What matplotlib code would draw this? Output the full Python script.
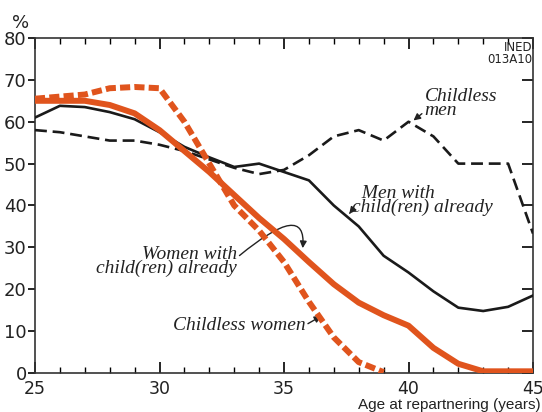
import numpy as np
import matplotlib
matplotlib.use('Agg')
import matplotlib.pyplot as plt
from matplotlib.ticker import MultipleLocator

# donnees
ages = list(range(25, 46))
men_with_children = [61, 63.8, 63.5, 62.3, 60.6, 57.5, 54, 51.5, 49.2, 50, 48,
                     46, 40, 35, 28, 24, 19.5, 15.6, 14.8, 15.8, 18.5]
childless_men = [58, 57.5, 56.5, 55.5, 55.5, 54.5, 53, 51, 49, 47.5, 48.5,
                 52, 56.5, 58, 55.5, 60, 56.5, 50, 50, 50, 33.3]
women_with_children = [65, 65, 65, 64, 62, 58, 53, 48, 42.5, 37, 32,
                       26.5, 21.2, 16.8, 13.8, 11.3, 6, 2.2, 0.4, 0.4, 0.4]
ages_cw = list(range(25, 40))
childless_women = [65.5, 66, 66.5, 68, 68.3, 68, 60, 50, 40, 34, 26.5,
                   17, 8.5, 2.6, 0.2]

orange = '#e0541d'

fig = plt.figure(figsize=(5.42, 4.12), dpi=100)
ax = fig.add_axes([0.0646, 0.0947, 0.9188, 0.8131])

ax.plot(ages, men_with_children, color='#1a1a1a', lw=1.9, zorder=3)
ax.plot(ages, childless_men, color='#1a1a1a', lw=1.9, ls=(0, (4.5, 2.2)), zorder=3)
ax.plot(ages, women_with_children, color=orange, lw=4.3, solid_capstyle='butt', zorder=4)
ax.plot(ages_cw, childless_women, color=orange, lw=4.3, ls=(0, (1.7, 0.7)), zorder=4)

ax.set_xlim(25, 45)
ax.set_ylim(0, 80)
ax.xaxis.set_major_locator(MultipleLocator(5))
ax.xaxis.set_minor_locator(MultipleLocator(1))
ax.yaxis.set_major_locator(MultipleLocator(10))
ax.tick_params(axis='x', which='both', direction='in', top=True, labelsize=12.5, pad=5)
ax.tick_params(axis='x', which='major', length=8, width=1.2)
ax.tick_params(axis='x', which='minor', length=4, width=1)
ax.tick_params(axis='y', which='major', direction='out', length=5, width=1.2, labelsize=13, pad=1)
ax.tick_params(axis='y', which='major', right=True)
for lab in ax.get_xticklabels() + ax.get_yticklabels():
    lab.set_color('#222222')
for t in ax.yaxis.get_major_ticks():
    t.tick2line.set_marker(matplotlib.lines.TICKLEFT)
    t.tick2line.set_markersize(8)
for s in ax.spines.values():
    s.set_linewidth(1.2)
    s.set_color('#333333')

fig.text(0.022, 0.965, '%', fontsize=13, va='top', ha='left', color='#222222')
fig.text(0.998, 0.0, 'Age at repartnering (years)', fontsize=11, ha='right', va='bottom',
         fontfamily='Liberation Sans', color='#222222')
ax.text(0.998, 0.99, 'INED\n013A10', transform=ax.transAxes, fontsize=8.5, ha='right', va='top',
        linespacing=0.85, fontfamily='Liberation Sans Narrow', color='#222222')

tf = dict(fontfamily='Liberation Serif', style='italic', fontsize=14, color='#222222', linespacing=0.75)
ap = dict(arrowstyle='-|>', color='#222222', lw=1, mutation_scale=10, shrinkA=0, shrinkB=0)

ax.annotate('Childless\nmen', xy=(40.2, 60.3), xytext=(40.65, 64.3), ha='left', va='center',
            arrowprops=dict(ap, relpos=(0, 0.25)), **tf)
ax.annotate('  Men with\nchild(ren) already', xy=(37.62, 38.0), xytext=(37.75, 41.2), ha='left', va='center',
            arrowprops=dict(ap, relpos=(0, 0.2)), **tf)
ax.annotate('Women with\nchild(ren) already', xy=(35.75, 29.8), xytext=(33.1, 26.6), ha='right', va='center',
            arrowprops=dict(ap, relpos=(1, 0.62), connectionstyle='angle3,angleA=40,angleB=85'), **tf)
ax.annotate('Childless women', xy=(36.5, 13.6), xytext=(35.85, 11.4), ha='right', va='center',
            arrowprops=dict(ap, relpos=(1, 0.5)), **tf)

fig.savefig('out.png', dpi=100)
